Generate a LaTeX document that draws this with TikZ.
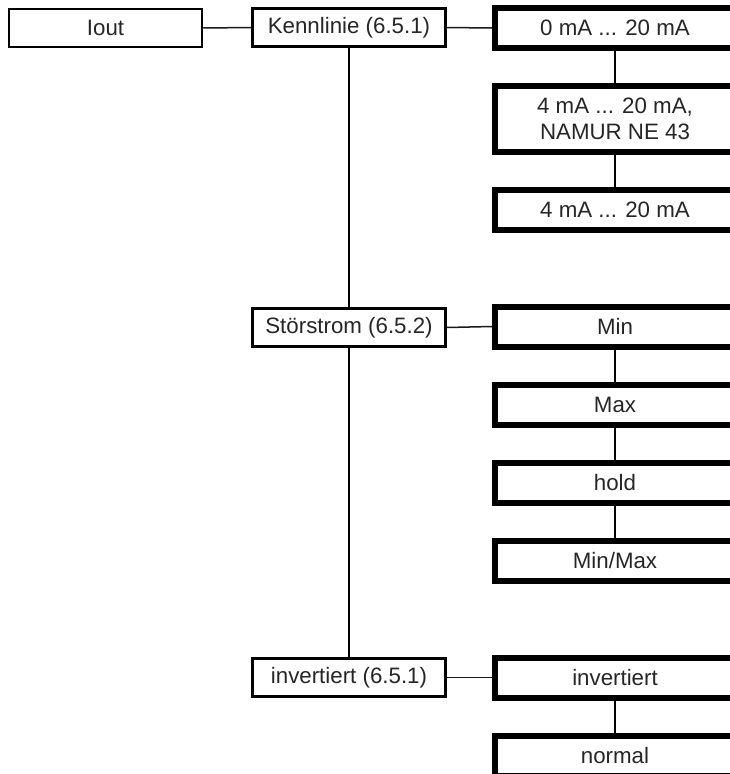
\documentclass[tikz,border=0pt]{standalone}
\usepackage{fontspec}
\setmainfont{Liberation Sans}
\begin{document}
\begin{tikzpicture}[x=1pt,y=-1pt,
  txt/.style={text=black!85,font=\fontsize{22.3}{25.5}\selectfont,align=center,inner sep=0pt},
  leftbox/.style={txt,draw=black,line width=2.5pt,rectangle,minimum width=193pt,minimum height=38pt},
  optbox/.style={txt,draw=black,line width=6pt,rectangle,minimum width=240pt,minimum height=40pt},
  link/.style={draw=black!90,line width=1.5pt},
  trunk/.style={draw=black,line width=2pt}]
\clip (0,0) rectangle (730,774);
\fill[white] (0,0) rectangle (730,774);
% left column
\node[leftbox] (iout) at (105.5,28) {Iout};
\node[leftbox] (kenn) at (349,27.5) {Kennlinie (6.5.1)};
\node[leftbox] (stor) at (349,327.5) {Störstrom (6.5.2)};
\node[leftbox] (inv) at (349,677.5) {invertiert (6.5.1)};
% option boxes
\node[optbox] (k1) at (615,28) {0 mA ... 20 mA};
\node[optbox,minimum height=66pt] (k2) at (615,119) {4 mA ... 20 mA,\\NAMUR NE 43};
\node[optbox] (k3) at (615,210) {4 mA ... 20 mA};
\node[optbox] (s1) at (615,326.5) {Min};
\node[optbox] (s2) at (615,404.5) {Max};
\node[optbox] (s3) at (615,482.5) {hold};
\node[optbox] (s4) at (615,560.5) {Min/Max};
\node[optbox] (i1) at (615,677.5) {invertiert};
\node[optbox] (i2) at (615,756) {normal};
% connectors
\draw[link] (iout.east) -- (kenn.west);
\draw[link] (kenn.east) -- (k1.west);
\draw[link] (stor.east) -- (s1.west);
\draw[link] (inv.east) -- (i1.west);
\draw[trunk] (kenn.south) -- (stor.north);
\draw[trunk] (stor.south) -- (inv.north);
\draw[trunk] (k1.south) -- (k2.north);
\draw[trunk] (k2.south) -- (k3.north);
\draw[trunk] (s1.south) -- (s2.north);
\draw[trunk] (s2.south) -- (s3.north);
\draw[trunk] (s3.south) -- (s4.north);
\draw[trunk] (i1.south) -- (i2.north);
\end{tikzpicture}
\end{document}
